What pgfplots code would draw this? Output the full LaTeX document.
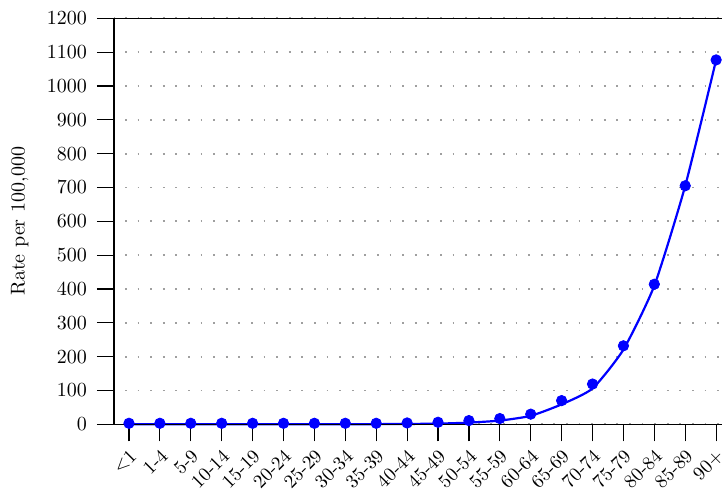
\documentclass[border=0pt]{standalone}
\usepackage{pgfplots}
\pgfplotsset{compat=1.18}
\definecolor{pblue}{RGB}{0,0,255}
\begin{document}
\begin{tikzpicture}
\begin{axis}[
  scale only axis, width=304pt, height=203pt,
  xmin=-0.485, xmax=19.19, ymin=0, ymax=1200,
  axis line style={draw=none},
  ytick={0,100,...,1200},
  xtick={0,...,19},
  xticklabels={{<1},1-4,5-9,10-14,15-19,20-24,25-29,30-34,35-39,40-44,45-49,50-54,55-59,60-64,65-69,70-74,75-79,80-84,85-89,90+},
  /pgf/number format/1000 sep={},
  tick align=outside, major tick length=8.5pt,
  tick style={black, line width=0.6pt},
  tick pos=left,
  ymajorgrids, grid style={gray!75, line width=0.9pt, dash pattern=on 0.9pt off 5.4pt, dash phase=-5.5pt},
  yticklabel style={anchor=east, xshift=-1.5pt, font=\fontsize{10}{12}\selectfont},
  xticklabel style={xshift=3pt, yshift=-5pt, rotate=45, anchor=east, inner sep=1pt, font=\fontsize{9.6}{11}\selectfont},
  ylabel={Rate per 100,000},
  ylabel style={at={(axis description cs:-0.155,0.5)}, anchor=center, rotate=0, font=\fontsize{10}{12}\selectfont},
  clip=false,
]
\addplot[pblue, line width=1.1pt, smooth, tension=0.35] coordinates {
(0,0)(1,0)(2,0)(3,0)(4,0)(5,0)(6,0)(7,0)(8,0.5)(9,1)(10,2)(11,5)(12,11)(13,25)(14,59)(15,106)(16,221)(17,410)(18,705)(19,1077)};
\addplot[only marks, mark=*, mark size=2.6pt, pblue] coordinates {
(0,3)(1,3)(2,3)(3,3)(4,3)(5,3)(6,3)(7,3)(8,3)(9,4)(10,6)(11,11)(12,17)(13,30)(14,70)(15,119)(16,232)(17,414)(18,705)(19,1077)};
\draw[black, line width=0.6pt] ([xshift=-8.5pt]rel axis cs:0,0) -- (rel axis cs:1,0);
\draw[black, line width=0.6pt] ([xshift=-8.5pt]rel axis cs:0,1) -- (rel axis cs:1,1);
\draw[black, line width=0.6pt] (rel axis cs:0,0) -- (rel axis cs:0,1);
\end{axis}
\pgfresetboundingbox
\path[use as bounding box] (-57pt,-34.35pt) rectangle (304pt,212.15pt);
\end{tikzpicture}
\end{document}
